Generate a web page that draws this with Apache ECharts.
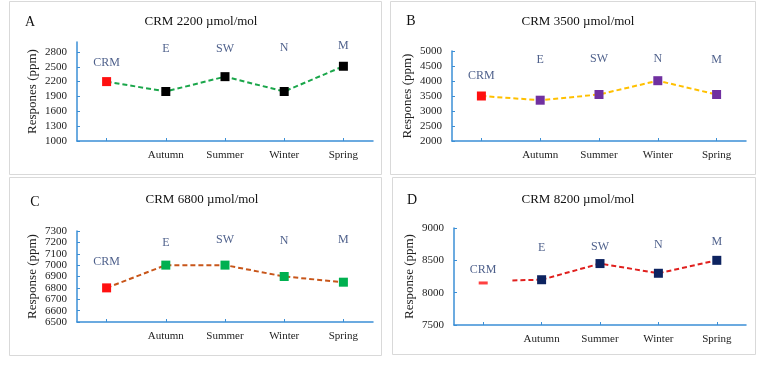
<!DOCTYPE html>
<html>
<head>
<meta charset="utf-8">
<script src="https://cdn.jsdelivr.net/npm/echarts@6/dist/echarts.min.js"></script>
<style>html,body{margin:0;padding:0;background:#fff}#c{width:768px;height:382px}</style>
</head>
<body>
<div id="c"></div>
<script>
// ---- data ----
const categoryLabels = ['', 'Autumn', 'Summer', 'Winter', 'Spring'];
const siteLabels = ['CRM', 'E', 'SW', 'N', 'M'];
const titles = ['CRM 2200 \u00b5mol/mol', 'CRM 3500 \u00b5mol/mol', 'CRM 6800 \u00b5mol/mol', 'CRM 8200 \u00b5mol/mol'];
const panelLetters = ['A', 'B', 'C', 'D'];
const yNames = ['Respones (ppm)', 'Respones (ppm)', 'Response (ppm)', 'Response (ppm)'];
const valuesA = [2200, 2000, 2300, 2000, 2510];
const valuesB = [3500, 3360, 3550, 4010, 3550];
const valuesC = [6800, 7000, 7000, 6900, 6850];
const valuesD = [8150, 8200, 8450, 8300, 8500];
const leadInD = [[0.5, 8190], [1, 8200]];
const labelYA = [2580, 2860, 2870, 2880, 2920];
const labelYB = [4170, 4700, 4730, 4730, 4700];
const labelYC = [7030, 7200, 7225, 7210, 7220];
const labelYD = [8360, 8700, 8715, 8735, 8790];
const yMin = [1000, 2000, 6500, 7500];
const yMax = [3000, 5000, 7300, 9000];
const yInterval = [300, 500, 100, 500];

// ---- styles ----
const serif = 'Liberation Serif, Times New Roman, serif';
const axisBlue = '#3b8fd6';
const labelNavy = '#22386e';
const grids = [
  {left: 77, top: 42, width: 296, height: 99},
  {left: 452, top: 51, width: 294, height: 90},
  {left: 77, top: 231, width: 296, height: 91},
  {left: 454, top: 228, width: 292, height: 97}
];
const lineColors = ['#1aa64a', '#ffc000', '#c8561a', '#e0201e'];
const markerColors = ['#000000', '#7030a0', '#00b050', '#0d2360'];
const crmRed = '#ff1010';

const chart = echarts.init(document.getElementById('c'), null, {renderer: 'canvas'});

const xAxes = grids.map((g, i) => ({
  type: 'category', gridIndex: i, data: categoryLabels, boundaryGap: true,
  axisLine: {onZero: false, lineStyle: {color: axisBlue, width: 1.5}},
  axisTick: {show: true, inside: true, length: 3, alignWithLabel: true, lineStyle: {color: axisBlue}},
  axisLabel: {color: '#222', fontFamily: serif, fontSize: 11, margin: 9, interval: 0},
  splitLine: {show: false}
}));
// hidden value axis for D's lead-in dashed segment
xAxes.push({type: 'value', gridIndex: 3, min: -0.5, max: 4.5, show: false, axisLine: {show: false, onZero: false}});

const yAxes = grids.map((g, i) => ({
  type: 'value', gridIndex: i, min: yMin[i], max: yMax[i], interval: yInterval[i],
  name: yNames[i], nameLocation: 'middle', nameGap: 38, nameRotate: 90,
  nameTextStyle: {fontFamily: serif, fontSize: 13, color: '#222'},
  axisLine: {show: true, onZero: false, lineStyle: {color: axisBlue, width: 1.5}},
  axisTick: {show: true, inside: true, length: 3, lineStyle: {color: axisBlue}},
  axisLabel: {color: '#222', fontFamily: serif, fontSize: 11, margin: 10, showMaxLabel: i !== 0, formatter: v => String(v)},
  splitLine: {show: false}
}));

function pointData(vals, i, skipFirst) {
  return vals.map((v, k) => {
    if (k === 0) return skipFirst ? '-' : {value: v, itemStyle: {color: crmRed}};
    return {value: v, itemStyle: {color: markerColors[i]}};
  });
}
function labelData(ys) {
  return ys.map((y, k) => ({value: [k, y], name: siteLabels[k]}));
}
const dashed = {type: [5, 3], width: 2};

const series = [];
[valuesA, valuesB, valuesC].forEach((vals, i) => {
  series.push({
    type: 'line', xAxisIndex: i, yAxisIndex: i, data: pointData(vals, i, false),
    symbol: 'rect', symbolSize: 9, lineStyle: Object.assign({color: lineColors[i]}, dashed),
    itemStyle: {color: markerColors[i]}, z: 3, animation: false
  });
});
// D: main series without CRM point
series.push({
  type: 'line', xAxisIndex: 3, yAxisIndex: 3, data: pointData(valuesD, 3, true),
  symbol: 'rect', symbolSize: 9, lineStyle: Object.assign({color: lineColors[3]}, dashed),
  itemStyle: {color: markerColors[3]}, z: 3, animation: false
});
series.push({
  type: 'line', xAxisIndex: 4, yAxisIndex: 3, data: leadInD, showSymbol: false, symbol: 'none',
  lineStyle: Object.assign({color: lineColors[3]}, dashed), z: 2, animation: false
});
series.push({
  type: 'scatter', xAxisIndex: 3, yAxisIndex: 3, data: [[0, valuesD[0]]],
  symbol: 'rect', symbolSize: [9, 3], itemStyle: {color: crmRed}, animation: false
});
[labelYA, labelYB, labelYC, labelYD].forEach((ys, i) => {
  series.push({
    type: 'scatter', xAxisIndex: i, yAxisIndex: i, data: labelData(ys), symbolSize: 0,
    label: {show: true, position: 'inside', formatter: p => p.name, color: labelNavy, fontFamily: serif, fontSize: 12},
    silent: true, animation: false
  });
});

// panel frames, titles and letters
const panels = [
  {x: 9, y: 1, w: 372, h: 173, tx: 201, ty: 22, lx: 30, ly: 22},
  {x: 390, y: 1, w: 365, h: 173, tx: 578, ty: 22, lx: 411, ly: 21},
  {x: 9, y: 177, w: 372, h: 178, tx: 202, ty: 200, lx: 35, ly: 202},
  {x: 392, y: 177, w: 363, h: 177, tx: 578, ty: 200, lx: 412, ly: 200}
];
const graphics = [];
panels.forEach((p, i) => {
  graphics.push({type: 'rect', shape: {x: p.x + 0.5, y: p.y + 0.5, width: p.w, height: p.h}, style: {fill: null, stroke: '#d9d9d9', lineWidth: 1}, z: -1});
  graphics.push({type: 'text', x: p.tx, y: p.ty, style: {text: titles[i], font: '13px ' + serif, fill: '#111', textAlign: 'center', textVerticalAlign: 'middle'}});
  graphics.push({type: 'text', x: p.lx, y: p.ly, style: {text: panelLetters[i], font: '14px ' + serif, fill: '#111', textAlign: 'center', textVerticalAlign: 'middle'}});
});

chart.setOption({
  animation: false,
  backgroundColor: '#fff',
  grid: grids,
  xAxis: xAxes,
  yAxis: yAxes,
  series: series,
  graphic: graphics
});
</script>
</body>
</html>
